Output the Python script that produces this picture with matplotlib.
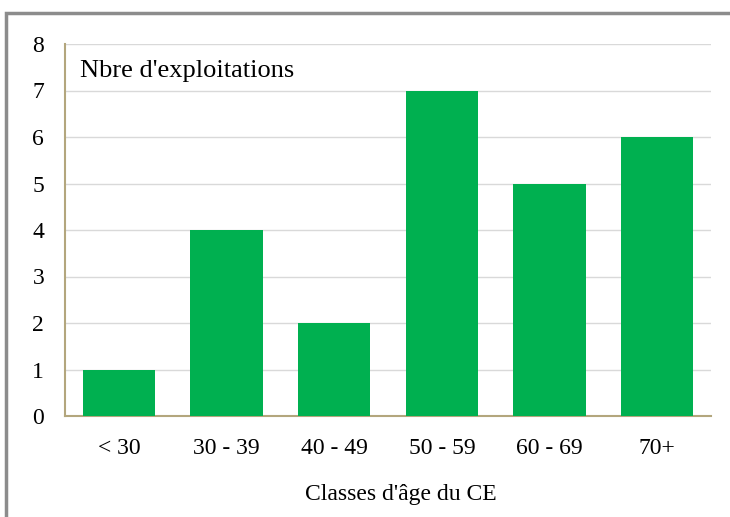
import matplotlib.pyplot as plt
from matplotlib.patches import Rectangle

# Données
classes = ["< 30", "30 - 39", "40 - 49", "50 - 59", "60 - 69", "70+"]
nbre = [1, 4, 2, 7, 5, 6]

W, H = 730, 517
fig = plt.figure(figsize=(W / 100, H / 100), dpi=100)
ax = fig.add_axes([65 / W, 1 - 416 / H, (711 - 65) / W, (416 - 44) / H])

# cadre gris autour du graphique
fig.patches.append(Rectangle((6 / W, -0.01), 1.0, 1 - 13 / H + 0.01, transform=fig.transFigure,
                             fill=False, edgecolor="#8c8c8c", linewidth=2.5))

ax.bar(range(len(classes)), nbre, width=0.67, color="#00B050", zorder=3)

ax.set_xlim(-0.5, len(classes) - 0.5)
ax.set_ylim(0, 8)
ax.set_yticks(range(0, 9))
ax.set_xticks(range(len(classes)))
ax.set_xticklabels(classes)
ax.grid(axis="y", color="#d9d9d9", linewidth=1, zorder=0)

for s in ["top", "right"]:
    ax.spines[s].set_visible(False)
for s in ["left", "bottom"]:
    ax.spines[s].set_color("#b3a67d")
    ax.spines[s].set_linewidth(1.5)

ax.tick_params(length=0, labelsize=17)
ax.tick_params(axis="x", pad=16)
ax.tick_params(axis="y", pad=15)
for lab in ax.get_xticklabels() + ax.get_yticklabels():
    lab.set_fontfamily("Liberation Serif")

ax.set_xlabel("Classes d'âge du CE", fontsize=17, family="Liberation Serif")
ax.xaxis.set_label_coords(0.52, -0.183)
ax.text(0.023, 0.928, "Nbre d'exploitations", transform=ax.transAxes, fontsize=19,
        family="Liberation Serif", va="center", ha="left")

fig.savefig("out.png", dpi=100)
